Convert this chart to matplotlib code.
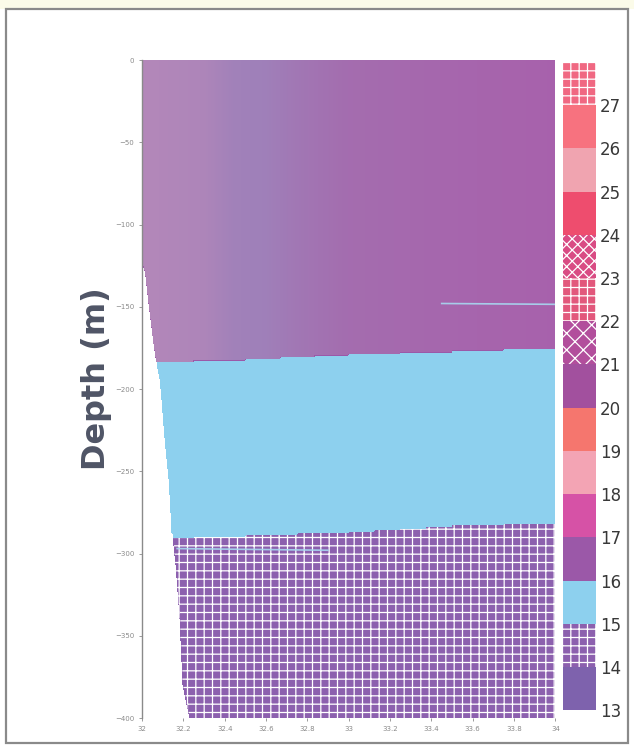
import numpy as np
import matplotlib
matplotlib.use("Agg")
import matplotlib.pyplot as plt
from matplotlib.colors import LinearSegmentedColormap
from matplotlib.patches import Rectangle

# temperature classes of the colour bar
levels = [13, 14, 15, 16, 17, 18, 19, 20, 21, 22, 23, 24, 25, 26, 27, 28]
class_colors = ['#7e62ad', '#8c60ae', '#8dd0ee', '#9b58a8', '#d652a6',
                '#f3a4b4', '#f5766e', '#a2509e', '#b24e9c', '#e2587c',
                '#d94c84', '#ee4d6e', '#f0a4b0', '#f7727f', '#f06882']
class_hatches = [None, '++', None, None, None, None, None, None,
                 'xx', '++', 'xxx', None, None, None, '++']

# section: salinity (x) and depth (m, positive down)
sal_nodes = [32.0, 32.5, 33.0, 33.5, 34.0]
upper_iface = [184, 182, 179, 177, 175]     # 16 / 15 interface
lower_iface = [291, 289, 287, 283, 281]     # 15 / 14 interface
layer_temp = [16.5, 15.5, 14.5]

# left limit of the data (lowest salinity observed at each depth)
edge_depth = [0, 124, 128, 152, 176, 196, 233, 257, 290, 308, 339, 379, 400]
edge_sal = [32.0, 32.0, 32.012, 32.034, 32.059, 32.088, 32.112, 32.132,
            32.146, 32.161, 32.18, 32.195, 32.23]

# shade of the warm upper layer across the section
shade_sal = [32.0, 32.3, 32.45, 32.6, 32.75, 33.0, 33.5, 34.0]
shade_temp = [16.0, 16.1, 16.3, 16.35, 16.5, 16.7, 16.85, 16.95]

# thin isoline pieces visible in the section
iso_a_sal = [33.45, 34.0]
iso_a_dep = [148, 148.5]
iso_b_sal = [32.17, 32.9]
iso_b_dep = [297, 298]

xticks = [32, 32.2, 32.4, 32.6, 32.8, 33, 33.2, 33.4, 33.6, 33.8, 34]
xticklabels = ['32', '32.2', '32.4', '32.6', '32.8', '33', '33.2', '33.4',
               '33.6', '33.8', '34']
yticks = [0, -50, -100, -150, -200, -250, -300, -350, -400]

plt.rcParams['hatch.color'] = 'white'
plt.rcParams['hatch.linewidth'] = 0.9

sal = np.linspace(32, 34, 401)
dep = np.linspace(0, 400, 401)
S, D = np.meshgrid(sal, dep)
up = np.interp(S, sal_nodes, upper_iface)
lo = np.interp(S, sal_nodes, lower_iface)
T = np.where(D < up, layer_temp[0], np.where(D < lo, layer_temp[1], layer_temp[2]))
edge = np.interp(D, edge_depth, edge_sal)
T = np.ma.masked_where(S < edge, T)

shade = np.where(D < up, np.interp(S, shade_sal, shade_temp), np.nan)
shade = np.ma.masked_invalid(np.ma.masked_where(S < edge, shade))

fig = plt.figure(figsize=(6.34, 7.46), dpi=100)
fig.patches.append(Rectangle((0, 0.988), 1, 0.012, transform=fig.transFigure,
                             facecolor='#fbfbe9', edgecolor='none', zorder=0))
fig.patches.append(Rectangle((0.009, 0.004), 0.982, 0.984, transform=fig.transFigure,
                             facecolor='none', edgecolor='#8a8a8a', lw=1.6, zorder=0))

ax = fig.add_axes([0.224, 0.0375, 0.652, 0.882])
cs = ax.contourf(S, -D, T, levels=levels, colors=class_colors, hatches=class_hatches)
cs.set_linewidth(0)

shade_cmap = LinearSegmentedColormap.from_list(
    'upper', ['#b387b9', '#9f80b9', '#a36eaf', '#a85fab'])
ax.pcolormesh(S, -D, shade, cmap=shade_cmap, vmin=16, vmax=17, shading='nearest',
              rasterized=True)

ax.plot(iso_a_sal, [-d for d in iso_a_dep], color='#a8d8f0', lw=1.2, alpha=0.9)
ax.plot(iso_b_sal, [-d for d in iso_b_dep], color='#a8d8f0', lw=1.2, alpha=0.9)

ax.set_xlim(32, 34)
ax.set_ylim(-400, 0)
ax.set_xticks(xticks)
ax.set_xticklabels(xticklabels)
ax.set_yticks(yticks)
ax.tick_params(labelsize=5, colors='#8a8a8a', length=2, width=0.6)
for side in ['top', 'right', 'bottom']:
    ax.spines[side].set_visible(False)
ax.spines['left'].set_color('#8a8a8a')
ax.spines['left'].set_linewidth(1.0)

fig.text(0.152, 0.493, 'Depth (m)', rotation=90, ha='center', va='center',
         fontsize=23, fontweight='bold', color='#4f5566')

cax = fig.add_axes([0.888, 0.048, 0.052, 0.869])
cb = fig.colorbar(cs, cax=cax, ticks=levels[:-1])
cb.outline.set_visible(False)
cb.ax.tick_params(length=0, labelsize=12, colors='#383838', pad=3)
# white hatching in the colour bar too
for p in (cb.solids_patches or []):
    p.set_edgecolor('white')
    p.set_linewidth(0)

fig.savefig('out.png', dpi=100)
